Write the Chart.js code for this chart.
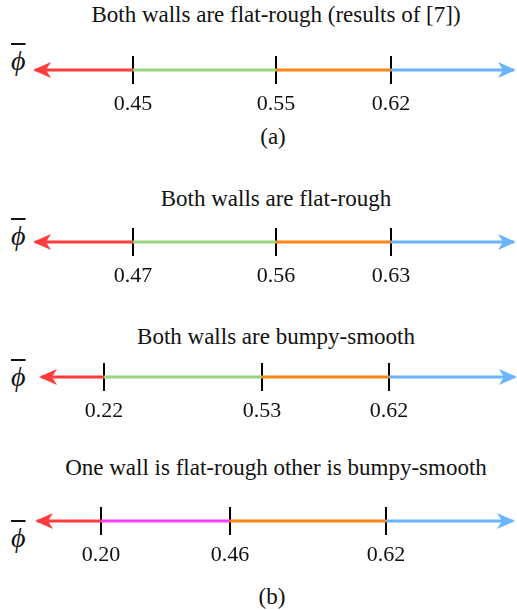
<!DOCTYPE html>
<html>
<head>
<meta charset="utf-8">
<script src="https://cdn.jsdelivr.net/npm/chart.js@4.4.1/dist/chart.umd.min.js"></script>
<style>
  body { margin: 0; background: #fff; }
  #wrap { position: relative; width: 517px; height: 610px; overflow: hidden; }
  canvas { position: absolute; left: 0; }
  .txt { position: absolute; left: 26px; width: 500px; text-align: center; font-family: "Liberation Serif", "Times New Roman", serif; font-size: 23px; line-height: 26px; color: #111; white-space: nowrap; }
  .phi { position: absolute; left: 11px; font-family: "Liberation Serif", "DejaVu Serif", serif; font-style: italic; font-size: 28px; line-height: 30px; color: #111; text-decoration: overline; text-decoration-thickness: 2px; }
</style>
</head>
<body>
<div id="wrap">
  <div class="txt" style="top:2px;">Both walls are flat-rough (results of [7])</div>
  <div class="txt" style="top:124px; left:23px;">(a)</div>
  <div class="txt" style="top:186px;">Both walls are flat-rough</div>
  <div class="txt" style="top:324px;">Both walls are bumpy-smooth</div>
  <div class="txt" style="top:455px;">One wall is flat-rough other is bumpy-smooth</div>
  <div class="txt" style="top:584px; left:22px;">(b)</div>

  <div class="phi" style="top:46px;">ϕ</div>
  <div class="phi" style="top:221px;">ϕ</div>
  <div class="phi" style="top:362px;">ϕ</div>
  <div class="phi" style="top:523px;">ϕ</div>

  <canvas id="c1" width="517" height="68" style="top:56px"></canvas>
  <canvas id="c2" width="517" height="68" style="top:228px"></canvas>
  <canvas id="c3" width="517" height="68" style="top:363px"></canvas>
  <canvas id="c4" width="517" height="68" style="top:507px"></canvas>
</div>

<script>
// --- data: the ends of the phi axis and the regime boundaries of each case ---
const phiEnds = [0, 1];
const boundsA = [0.45, 0.55, 0.62];   // flat-rough, results of [7]
const boundsB = [0.47, 0.56, 0.63];   // both flat-rough
const boundsC = [0.22, 0.53, 0.62];   // both bumpy-smooth
const boundsD = [0.20, 0.46, 0.62];   // flat-rough + bumpy-smooth

// colours of the regimes, left to right
const RED = '#ff3c3c', GREEN = '#9ad47c', ORANGE = '#ff8412', BLUE = '#6bb4ff', MAGENTA = '#ff3cff';

// scale that puts the boundaries where the schematic draws them (not to scale)
class PiecewiseScale extends Chart.LinearScale {
    static id = 'piecewise';
    static defaults = {};
    _anch() {
        return { v: this.options.anchorValues, f: this.options.anchorFractions };
    }
    getPixelForValue(value) {
        const { v, f } = this._anch();
        let i = 0;
        while (i < v.length - 2 && value > v[i + 1]) i++;
        const t = (value - v[i]) / (v[i + 1] - v[i]);
        return this.getPixelForDecimal(f[i] + t * (f[i + 1] - f[i]));
    }
    getValueForPixel(pixel) {
        const { v, f } = this._anch();
        const d = this.getDecimalForPixel(pixel);
        let i = 0;
        while (i < f.length - 2 && d > f[i + 1]) i++;
        const t = (d - f[i]) / (f[i + 1] - f[i]);
        return v[i] + t * (v[i + 1] - v[i]);
    }
}
Chart.register(PiecewiseScale);

// arrow head as a point image, the tip sits 2px off the image centre
function arrowHead(color, dir) {
    const c = document.createElement('canvas');
    c.width = 40; c.height = 18;
    const g = c.getContext('2d');
    g.fillStyle = color;
    g.beginPath();
    if (dir < 0) {
        g.moveTo(18, 9); g.lineTo(36, 1); g.lineTo(31, 9); g.lineTo(36, 17);
    } else {
        g.moveTo(22, 9); g.lineTo(4, 1); g.lineTo(9, 9); g.lineTo(4, 17);
    }
    g.closePath();
    g.fill();
    return c;
}

function makeLine(id, bounds, colors, fractions, padL, padR) {
    const edges = [phiEnds[0], ...bounds, phiEnds[1]];
    const datasets = colors.map((col, i) => {
        const first = i === 0, last = i === colors.length - 1;
        return {
            data: [{ x: edges[i], y: 0 }, { x: edges[i + 1], y: 0 }],
            borderColor: col,
            borderWidth: 3,
            clip: false,
            pointRadius: c => ((first && c.dataIndex === 0) || (last && c.dataIndex === 1)) ? 3 : 0,
            pointStyle: first ? arrowHead(col, -1) : (last ? arrowHead(col, 1) : 'circle'),
            pointHoverRadius: 0
        };
    });

    new Chart(document.getElementById(id), {
        type: 'line',
        data: { datasets },
        options: {
            responsive: false,
            animation: false,
            events: [],
            layout: { autoPadding: false, padding: { left: padL, right: padR, top: 0, bottom: 0 } },
            plugins: { legend: { display: false }, tooltip: { enabled: false } },
            scales: {
                x: {
                    type: 'piecewise',
                    min: phiEnds[0],
                    max: phiEnds[1],
                    anchorValues: edges,
                    anchorFractions: [0, ...fractions, 1],
                    z: 1,
                    afterBuildTicks: s => { s.ticks = bounds.map(v => ({ value: v })); },
                    afterFit: s => { s.height = 40; },
                    border: { display: false },
                    grid: { color: '#000', lineWidth: 2, drawTicks: false },
                    ticks: {
                        autoSkip: false, maxRotation: 0, padding: 7, color: '#111',
                        font: { family: '"Liberation Serif", "Times New Roman", serif', size: 22 },
                        callback: v => v.toFixed(2)
                    }
                },
                y: { display: false, min: -1, max: 1 }
            }
        }
    });
}

makeLine('c1', boundsA, [RED, GREEN, ORANGE, BLUE], [0.2046, 0.5031, 0.7432], 35, 3);
makeLine('c2', boundsB, [RED, GREEN, ORANGE, BLUE], [0.2046, 0.5031, 0.7432], 35, 3);
makeLine('c3', boundsC, [RED, GREEN, ORANGE, BLUE], [0.1329, 0.4662, 0.7342], 41, 2);
makeLine('c4', boundsD, [RED, MAGENTA, ORANGE, BLUE], [0.1345, 0.4055, 0.7332], 37, 4);
</script>
</body>
</html>
